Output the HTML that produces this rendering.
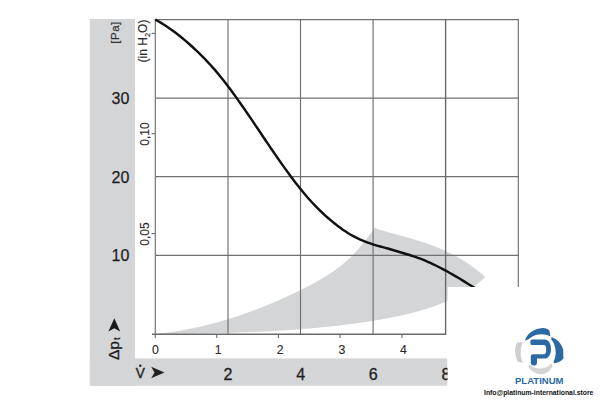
<!DOCTYPE html>
<html><head><meta charset="utf-8">
<style>
html,body{margin:0;padding:0;background:#fff;width:600px;height:400px;overflow:hidden}
svg{display:block}
text{font-family:"Liberation Sans",sans-serif}
</style></head>
<body>
<svg width="600" height="400" viewBox="0 0 600 400">
<!-- L-shaped gray band -->
<rect x="89.8" y="19" width="45.2" height="366.7" fill="#d4d5d7"/>
<rect x="89.8" y="358.4" width="357.8" height="27.3" fill="#d4d5d7"/>
<!-- gray envelope -->
<path fill="#d4d5d7" d="M155.0,333.84 L157.5,333.61 L160.0,333.36 L162.5,333.09 L165.0,332.80 L167.5,332.49 L170.0,332.16 L172.5,331.81 L175.0,331.44 L177.5,331.05 L180.0,330.64 L182.5,330.21 L185.0,329.77 L187.5,329.30 L190.0,328.82 L192.5,328.32 L195.0,327.79 L197.5,327.25 L200.0,326.70 L202.5,326.12 L205.0,325.52 L207.5,324.91 L210.0,324.28 L212.5,323.63 L215.0,322.96 L217.5,322.28 L220.0,321.57 L222.5,320.85 L225.0,320.12 L227.5,319.36 L230.0,318.59 L232.5,317.80 L235.0,316.99 L237.5,316.17 L240.0,315.33 L242.5,314.47 L245.0,313.60 L247.5,312.71 L250.0,311.80 L252.5,310.87 L255.0,309.93 L257.5,308.98 L260.0,308.01 L262.5,307.02 L265.0,306.01 L267.5,304.99 L270.0,303.96 L272.5,302.90 L275.0,301.84 L277.5,300.75 L280.0,299.66 L282.5,298.54 L285.0,297.41 L287.5,296.27 L290.0,295.11 L292.5,293.94 L295.0,292.75 L297.5,291.55 L300.0,290.33 L302.5,289.10 L305.0,287.85 L307.5,286.57 L310.0,285.28 L312.5,283.95 L315.0,282.59 L317.5,281.20 L320.0,279.77 L322.5,278.29 L325.0,276.77 L327.5,275.20 L330.0,273.57 L332.5,271.89 L335.0,270.14 L337.5,268.31 L340.0,266.40 L342.5,264.39 L345.0,262.26 L347.5,260.01 L350.0,257.64 L352.5,255.13 L355.0,252.51 L357.5,249.75 L360.0,246.88 L362.5,243.88 L365.0,240.78 L367.5,237.57 L370.0,234.28 L372.5,230.90 L375.0,227.46 L377.5,229.13 L380.0,229.87 L382.5,230.59 L385.0,231.29 L387.5,231.99 L390.0,232.68 L392.5,233.36 L395.0,234.04 L397.5,234.72 L400.0,235.40 L402.5,236.09 L405.0,236.78 L407.5,237.49 L410.0,238.20 L412.5,238.93 L415.0,239.67 L417.5,240.44 L420.0,241.22 L422.5,242.03 L425.0,242.86 L427.5,243.72 L430.0,244.61 L432.5,245.54 L435.0,246.50 L437.5,247.49 L440.0,248.53 L442.5,249.61 L445.0,250.73 L447.5,251.90 L450.0,253.12 L452.5,254.40 L455.0,255.72 L457.5,257.11 L460.0,258.55 L462.5,260.05 L465.0,261.62 L467.5,263.25 L470.0,264.95 L472.5,266.72 L475.0,268.57 L477.5,270.49 L480.0,272.49 L482.5,274.57 L485.0,276.73 L485.5,277.17 L485.5,277.00 L472.5,288.10 L470.0,289.34 L467.5,290.61 L465.0,291.92 L462.5,293.24 L460.0,294.56 L457.5,295.87 L455.0,297.17 L452.5,298.44 L450.0,299.66 L447.5,300.84 L445.0,301.95 L442.5,303.00 L440.0,304.01 L437.5,304.98 L435.0,305.91 L432.5,306.81 L430.0,307.67 L427.5,308.50 L425.0,309.30 L422.5,310.07 L420.0,310.81 L417.5,311.52 L415.0,312.21 L412.5,312.87 L410.0,313.50 L407.5,314.11 L405.0,314.70 L402.5,315.27 L400.0,315.82 L397.5,316.35 L395.0,316.87 L392.5,317.36 L390.0,317.84 L387.5,318.31 L385.0,318.77 L382.5,319.21 L380.0,319.65 L377.5,320.07 L375.0,320.49 L372.5,320.89 L370.0,321.29 L367.5,321.68 L365.0,322.06 L362.5,322.43 L360.0,322.79 L357.5,323.15 L355.0,323.49 L352.5,323.83 L350.0,324.16 L347.5,324.48 L345.0,324.80 L342.5,325.11 L340.0,325.41 L337.5,325.70 L335.0,325.98 L332.5,326.26 L330.0,326.53 L327.5,326.79 L325.0,327.05 L322.5,327.30 L320.0,327.54 L317.5,327.78 L315.0,328.01 L312.5,328.24 L310.0,328.45 L307.5,328.66 L305.0,328.87 L302.5,329.07 L300.0,329.26 L297.5,329.45 L295.0,329.63 L292.5,329.81 L290.0,329.98 L287.5,330.15 L285.0,330.31 L282.5,330.46 L280.0,330.62 L277.5,330.76 L275.0,330.90 L272.5,331.04 L270.0,331.17 L267.5,331.30 L265.0,331.42 L262.5,331.54 L260.0,331.66 L257.5,331.77 L255.0,331.88 L252.5,331.98 L250.0,332.08 L247.5,332.18 L245.0,332.27 L242.5,332.36 L240.0,332.45 L237.5,332.53 L235.0,332.61 L232.5,332.69 L230.0,332.77 L227.5,332.84 L225.0,332.91 L222.5,332.97 L220.0,333.04 L217.5,333.10 L215.0,333.16 L212.5,333.22 L210.0,333.28 L207.5,333.33 L205.0,333.39 L202.5,333.44 L200.0,333.49 L197.5,333.54 L195.0,333.58 L192.5,333.63 L190.0,333.67 L187.5,333.72 L185.0,333.76 L182.5,333.80 L180.0,333.85 L177.5,333.89 L175.0,333.93 L172.5,333.97 L170.0,334.01 L167.5,334.05 L165.0,334.09 L162.5,334.13 L160.0,334.17 L157.5,334.22 L155.0,334.26Z"/>
<!-- grid -->
<g stroke="#707070" stroke-width="1.15" fill="none">
<line x1="155.3" y1="19.6" x2="518.3" y2="19.6"/>
<line x1="155.3" y1="98.1" x2="518.3" y2="98.1"/>
<line x1="155.3" y1="176.6" x2="518.3" y2="176.6"/>
<line x1="155.3" y1="255.3" x2="518.3" y2="255.3"/>
<line x1="155.3" y1="19" x2="155.3" y2="338"/>
<line x1="228" y1="19.6" x2="228" y2="334"/>
<line x1="300.5" y1="19.6" x2="300.5" y2="334"/>
<line x1="373.1" y1="19.6" x2="373.1" y2="334"/>
<line x1="518.3" y1="19" x2="518.3" y2="287"/>
<line x1="151.5" y1="33.4" x2="155" y2="33.4"/>
<line x1="151.5" y1="133.7" x2="155" y2="133.7"/>
<line x1="151.5" y1="233.6" x2="155" y2="233.6"/>
<line x1="216.7" y1="334" x2="216.7" y2="338"/>
<line x1="278.4" y1="334" x2="278.4" y2="338"/>
<line x1="340.1" y1="334" x2="340.1" y2="338"/>
<line x1="402" y1="334" x2="402" y2="338"/>
</g>
<g stroke="#6a6a6a" stroke-width="1.4" fill="none">
<line x1="152" y1="334.3" x2="446.2" y2="334.3"/>
<line x1="445.6" y1="19.6" x2="445.6" y2="334.5"/>
</g>
<!-- curve -->
<path fill="none" stroke="#111" stroke-width="2.45" stroke-linecap="butt" stroke-linejoin="round" d="M155.3,19.60 L157.8,20.97 L160.3,22.41 L162.8,23.94 L165.3,25.54 L167.8,27.21 L170.3,28.94 L172.8,30.74 L175.3,32.60 L177.8,34.52 L180.3,36.49 L182.8,38.51 L185.3,40.58 L187.8,42.75 L190.3,44.97 L192.8,47.23 L195.3,49.54 L197.8,51.90 L200.3,54.33 L202.8,56.83 L205.3,59.40 L207.8,62.05 L210.3,64.79 L212.8,67.57 L215.3,70.43 L217.8,73.37 L220.3,76.41 L222.8,79.52 L225.3,82.71 L227.8,85.97 L230.3,89.30 L232.8,92.69 L235.3,96.13 L237.8,99.63 L240.3,103.17 L242.8,106.75 L245.3,110.36 L247.8,114.01 L250.3,117.68 L252.8,121.37 L255.3,125.08 L257.8,128.79 L260.3,132.51 L262.8,136.23 L265.3,139.95 L267.8,143.65 L270.3,147.34 L272.8,151.01 L275.3,154.65 L277.8,158.26 L280.3,161.84 L282.8,165.37 L285.3,168.86 L287.8,172.32 L290.3,175.74 L292.8,179.10 L295.3,182.40 L297.8,185.62 L300.3,188.77 L302.8,191.84 L305.3,194.83 L307.8,197.73 L310.3,200.53 L312.8,203.24 L315.3,205.87 L317.8,208.41 L320.3,210.87 L322.8,213.25 L325.3,215.55 L327.8,217.78 L330.3,219.94 L332.8,222.04 L335.3,224.06 L337.8,226.00 L340.3,227.85 L342.8,229.63 L345.3,231.34 L347.8,232.97 L350.3,234.51 L352.8,235.92 L355.3,237.21 L357.8,238.42 L360.3,239.56 L362.8,240.62 L365.3,241.63 L367.8,242.57 L370.3,243.46 L372.8,244.29 L375.3,245.07 L377.8,245.81 L380.3,246.51 L382.8,247.19 L385.3,247.84 L387.8,248.51 L390.3,249.27 L392.8,250.01 L395.3,250.75 L397.8,251.48 L400.3,252.23 L402.8,252.98 L405.3,253.74 L407.8,254.51 L410.3,255.28 L412.8,256.09 L415.3,256.93 L417.8,257.80 L420.3,258.72 L422.8,259.69 L425.3,260.70 L427.8,261.77 L430.3,262.88 L432.8,264.04 L435.3,265.24 L437.8,266.48 L440.3,267.75 L442.8,269.07 L445.3,270.41 L447.8,271.79 L450.3,273.20 L452.8,274.63 L455.3,276.09 L457.8,277.57 L460.3,279.07 L462.8,280.59 L465.3,282.12 L467.8,283.67 L470.3,285.24 L472.8,286.81 L475.3,288.39"/>
<!-- white cover -->
<rect x="447.6" y="287" width="153" height="113" fill="#fff"/>
<!-- y labels -->
<g fill="#1e1e1e" font-size="16" stroke="#1e1e1e" stroke-width="0.25">
<text x="129.4" y="103.8" text-anchor="end">30</text>
<text x="129.4" y="182.5" text-anchor="end">20</text>
<text x="129.4" y="260.6" text-anchor="end">10</text>
</g>
<g fill="#2e2e2e" font-size="12" stroke="#2e2e2e" stroke-width="0.15">
<text transform="translate(149.3,134.1) rotate(-90)" text-anchor="middle" font-size="12">0,10</text>
<text transform="translate(149.3,234.1) rotate(-90)" text-anchor="middle" font-size="12">0,05</text>
<text transform="translate(146.5,41) rotate(-90)" text-anchor="middle">(in H<tspan font-size="7.5" dy="3">2</tspan><tspan dy="-3">O)</tspan></text>
<text transform="translate(118.5,32.5) rotate(-90)" text-anchor="middle" font-size="11.5" letter-spacing="0.5" stroke="#333" stroke-width="0.2">[Pa]</text>
</g>
<!-- x labels -->
<g fill="#2a2a2a" font-size="12.3" text-anchor="middle" stroke="#2a2a2a" stroke-width="0.1">
<text x="155.4" y="354.1">0</text>
<text x="218.2" y="354.1">1</text>
<text x="280.2" y="354.1">2</text>
<text x="341.8" y="354.1">3</text>
<text x="403.4" y="354.1">4</text>
</g>
<g fill="#1e1e1e" font-size="16" text-anchor="middle" stroke="#1e1e1e" stroke-width="0.3">
<text x="227.9" y="380.1">2</text>
<text x="300.7" y="380.1">4</text>
<text x="373.2" y="380.1">6</text>
<text x="445.9" y="380.1">8</text>
</g>
<rect x="447.6" y="350" width="10" height="40" fill="#fff"/>
<!-- V dot arrow -->
<text transform="translate(140.2,378.1) scale(0.9,1)" fill="#1e1e1e" font-size="15.2" text-anchor="middle" stroke="#1e1e1e" stroke-width="0.4">V</text>
<circle cx="140.3" cy="365.8" r="1.2" fill="#1e1e1e"/>
<path d="M151.2,366.8 L164.5,372.5 L151.2,378.2 L154.5,372.5 Z" fill="#222"/>
<!-- delta p arrow -->
<path d="M114.3,318.2 L120.2,331.6 L114.3,328.2 L108.4,331.6 Z" fill="#1a1a1a"/>
<text transform="translate(119.2,360) rotate(-90)" fill="#1a1a1a" font-size="15.5" stroke="#1a1a1a" stroke-width="0.3">Δp<tspan font-size="9" dx="1" dy="1">t</tspan></text>
<!-- logo -->
<g>
<path fill="#cdced0" d="M517.2,342.4 L522.8,342.2 C521,346.5 520.5,350 520.7,353 C520.8,356.5 521.5,359.5 522.8,362.8 L517.8,361.8 C516,358 515,354 515.1,350.5 C515.2,347.5 516,344.8 517.2,342.4 Z"/>
<path fill="#d3d4d6" d="M528,366.5 C531,371.5 537,374.4 542.5,374.2 C547.5,373.8 551.5,369.5 552.6,365 L550.8,363.6 C548.5,366.8 544.5,368.6 540,368.6 C535.5,368.6 531.5,366.8 529.6,364.5 Z"/>
<path fill="#2a69a4" d="M525,340.8 C526.5,334 534,328.4 542.5,328 C545.5,327.9 548,328.8 549.4,330.6 L550.4,336.6 C545.5,333.6 537.5,333.4 532.5,336.4 C530,338 527.5,340 525,340.8 Z"/>
<path fill="#2a69a4" d="M551.6,336.9 C557,339 561.6,343.5 563.2,349.5 L563.4,358.6 C561.5,361.2 558.5,362.6 555.2,363.1 C553.6,363.3 553.2,362 554,360.4 C556.6,355.4 556.6,345.2 551.2,339.4 Z"/>
<path fill="#2a69a4" d="M532.3,339.6 L544.6,339.6 C549,339.6 551,344.2 551,349.2 C551,354.6 548.4,358.6 544.6,358.6 L537,358.6 L537,362.8 C537,364.9 535.6,365.6 533.8,365.6 C531.8,365.6 530.8,364.6 530.8,362.6 L530.8,356.5 C530.8,355.1 531.6,354.3 533,354.3 L544,354.3 C545.6,354.3 546.2,351.8 546.2,349.2 C546.2,346.7 545.5,345 544,345 L532.3,345 C530.9,345 530.4,344 530.4,342.4 C530.4,340.6 530.9,339.6 532.3,339.6 Z"/>
</g>
<text x="515" y="384.1" fill="#2a69a4" font-size="8.6" font-weight="bold" textLength="48.5" lengthAdjust="spacingAndGlyphs">PLATINUM</text>
<text x="484" y="394.8" fill="#111" font-size="7.6" font-weight="bold" textLength="109.4" lengthAdjust="spacingAndGlyphs">Info@platinum-international.store</text>
</svg>
</body></html>
